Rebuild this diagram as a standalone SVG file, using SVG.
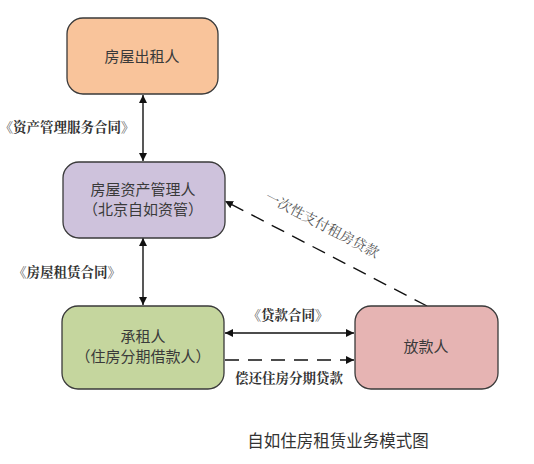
<svg xmlns="http://www.w3.org/2000/svg" width="534" height="464" viewBox="0 0 534 464">
<style>
.box{stroke:#3a3a3a;stroke-width:1.3}
.nt{font-family:"Noto Sans CJK SC","Noto Sans CJK JP",sans-serif;font-size:15px;fill:#3a3a3a;text-anchor:middle}
.lb{font-family:"Noto Serif CJK SC","Noto Sans CJK SC",serif;font-size:13.5px;font-weight:bold;fill:#333;text-anchor:middle}
.ln{stroke:#111;stroke-width:1.4;fill:none}
.dl{stroke:#111;stroke-width:1.4;fill:none;stroke-dasharray:14,9}
</style>
<defs>
<marker id="ah" viewBox="0 0 10 10" refX="10" refY="5" markerWidth="8" markerHeight="8" markerUnits="userSpaceOnUse" orient="auto-start-reverse">
<path d="M0,0 L10,5 L0,10 z" fill="#111"/>
</marker>
</defs>
<rect width="534" height="464" fill="#fff"/>
<g id="connectors">
<line class="ln" x1="143" y1="95" x2="143" y2="161" marker-start="url(#ah)" marker-end="url(#ah)"/>
<line class="ln" x1="143" y1="238" x2="143" y2="305" marker-start="url(#ah)" marker-end="url(#ah)"/>
<line class="ln" x1="225" y1="333" x2="354" y2="333" marker-start="url(#ah)" marker-end="url(#ah)"/>
<line class="dl" x1="225" y1="360" x2="354" y2="360" marker-end="url(#ah)"/>
<line class="dl" x1="427" y1="306" x2="225" y2="201" marker-end="url(#ah)"/>
<text class="lb" x="67" y="132">《资产管理服务合同》</text>
<text class="lb" x="67" y="277">《房屋租赁合同》</text>
<text class="lb" x="288" y="320">《贷款合同》</text>
<text class="lb" x="289" y="383">偿还住房分期贷款</text>
<text transform="translate(320,229) rotate(27.5)" font-family="Noto Serif CJK SC,Noto Sans CJK SC,serif" font-size="14" fill="#555" text-anchor="middle">一次性支付租房贷款</text>
</g>
<g id="n1">
<rect class="box" x="67" y="18" width="151" height="76" rx="16" fill="#F9C49B"/>
<text class="nt" x="142" y="62">房屋出租人</text>
</g>
<g id="n2">
<rect class="box" x="63" y="162" width="162" height="76" rx="16" fill="#CEC2DC"/>
<text class="nt" x="143" y="195">房屋资产管理人</text>
<text class="nt" x="143" y="215">（北京自如资管）</text>
</g>
<g id="n3">
<rect class="box" x="62" y="306" width="162" height="83" rx="16" fill="#C5D69E"/>
<text class="nt" x="143" y="342">承租人</text>
<text class="nt" x="143" y="362">（住房分期借款人）</text>
</g>
<g id="n4">
<rect class="box" x="355" y="306" width="143" height="83" rx="16" fill="#E6B4B3"/>
<text class="nt" x="426" y="352">放款人</text>
</g>
<text x="338" y="447" font-family="Noto Sans CJK SC,sans-serif" font-size="16.5" fill="#333" text-anchor="middle">自如住房租赁业务模式图</text>
</svg>
